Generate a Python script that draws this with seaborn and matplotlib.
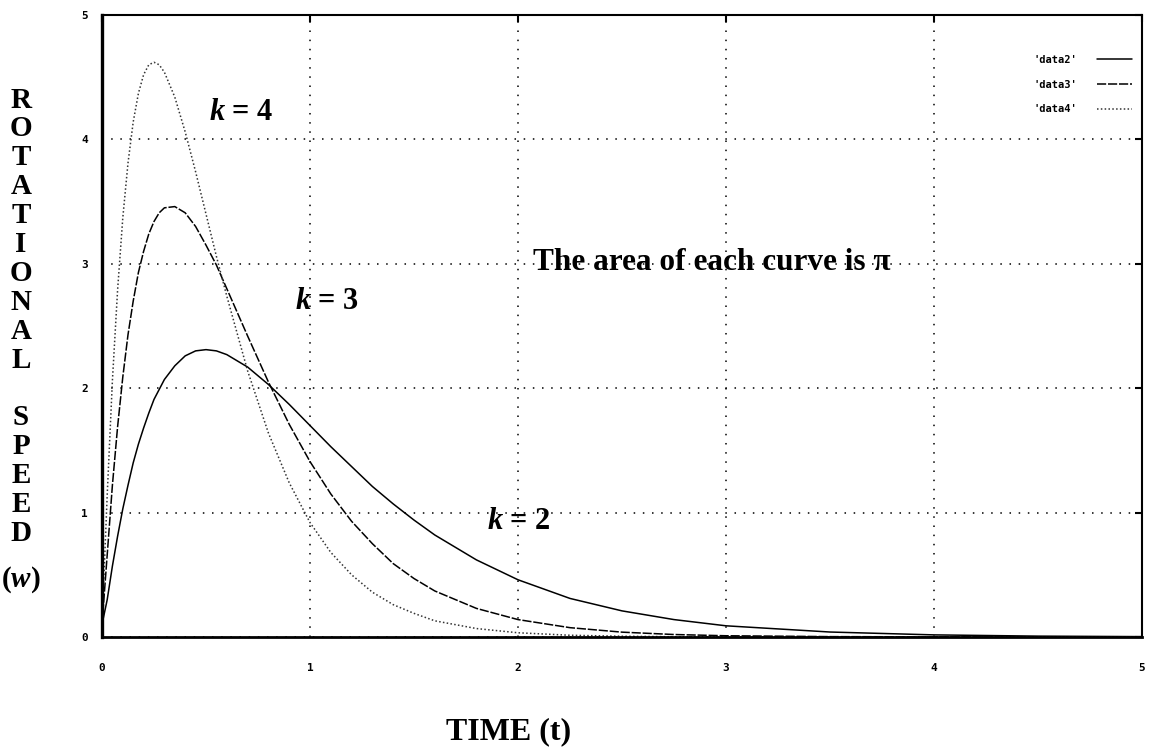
import numpy as np
import pandas as pd
import matplotlib
matplotlib.use("Agg")
import matplotlib.pyplot as plt
import seaborn as sns

# values
t_vals = [0, 0.025, 0.05, 0.075, 0.1, 0.125, 0.15, 0.175, 0.2, 0.225, 0.25, 0.275, 0.3,
          0.35, 0.4, 0.45, 0.5, 0.55, 0.6, 0.7, 0.8, 0.9, 1.0, 1.1, 1.2, 1.3, 1.4, 1.5,
          1.6, 1.8, 2.0, 2.25, 2.5, 2.75, 3.0, 3.5, 4.0, 4.5, 5.0]
w_k2 = [0.10, 0.30, 0.57, 0.81, 1.03, 1.22, 1.40, 1.55, 1.68, 1.80, 1.91, 1.99, 2.07,
        2.18, 2.26, 2.30, 2.31, 2.30, 2.27, 2.17, 2.03, 1.87, 1.70, 1.53, 1.37, 1.21, 1.07, 0.94,
        0.82, 0.62, 0.46, 0.31, 0.21, 0.14, 0.09, 0.04, 0.017, 0.007, 0.003]
w_k3 = [0.10, 0.66, 1.22, 1.69, 2.09, 2.43, 2.70, 2.93, 3.10, 3.24, 3.34, 3.41, 3.45,
        3.46, 3.41, 3.30, 3.15, 2.99, 2.80, 2.42, 2.05, 1.71, 1.41, 1.15, 0.93, 0.75, 0.59, 0.47,
        0.37, 0.23, 0.14, 0.075, 0.039, 0.02, 0.01, 0.003, 0.001, 0.0, 0.0]
w_k4 = [0.10, 1.14, 2.06, 2.79, 3.37, 3.81, 4.14, 4.37, 4.52, 4.60, 4.62, 4.60, 4.54,
        4.34, 4.06, 3.74, 3.40, 3.06, 2.74, 2.14, 1.64, 1.24, 0.92, 0.68, 0.50, 0.36, 0.26, 0.19,
        0.13, 0.068, 0.034, 0.014, 0.006, 0.002, 0.001, 0.0, 0.0, 0.0, 0.0]
series_names = ["'data2'", "'data3'", "'data4'"]
series_vals = [w_k2, w_k3, w_k4]
series_styles = ["-", (0, (6, 1.2)), (0, (1, 1.5))]
series_colors = ["black", "black", "#333333"]

sns.set_theme(style="white")
plt.rcParams["mathtext.fontset"] = "custom"
plt.rcParams["mathtext.it"] = "Liberation Serif:bold:italic"
plt.rcParams["mathtext.rm"] = "Liberation Serif:bold"
plt.rcParams["text.color"] = "black"

fig = plt.figure(figsize=(11.5, 7.51), dpi=100)
ax = fig.add_axes([102 / 1150, 1 - 637 / 751, 1040 / 1150, 622 / 751])

for name, vals, ls, c in zip(series_names, series_vals, series_styles, series_colors):
    df = pd.DataFrame({"t": t_vals, "w": vals})
    sns.lineplot(data=df, x="t", y="w", ax=ax, color=c, lw=1.1,
                 linestyle=ls, label=name)

ax.set_xlim(0, 5)
ax.set_ylim(0, 5)
ax.set_xticks(range(6))
ax.set_yticks(range(6))
ax.set_xlabel("")
ax.set_ylabel("")
ax.grid(True, color="black", lw=1.1, linestyle=(0, (1, 5)))
for s in ax.spines.values():
    s.set_color("black")
    s.set_linewidth(1.5)
ax.spines["left"].set_linewidth(2.4)
ax.spines["bottom"].set_linewidth(2.0)
ax.tick_params(direction="in", length=5, width=1.5, top=True, right=True, colors="black")
ax.tick_params(axis="x", pad=19)
ax.tick_params(axis="y", pad=10)
for lab in ax.get_xticklabels() + ax.get_yticklabels():
    lab.set_fontfamily("DejaVu Sans Mono")
    lab.set_fontweight("bold")
    lab.set_fontsize(8)

leg = ax.legend(loc="upper right", frameon=False, markerfirst=False,
                handlelength=3.4, labelspacing=1.4, handletextpad=1.9,
                borderpad=0, borderaxespad=0,
                bbox_to_anchor=(1030 / 1040, 1 - 40 / 622),
                prop={"family": "DejaVu Sans Mono", "weight": "bold", "size": 7.5})

serif = "Liberation Serif"
ax.text(0.515, 4.22, r"$k$ = 4", family=serif, weight="bold", fontsize=22, va="center")
ax.text(0.93, 2.7, r"$k$ = 3", family=serif, weight="bold", fontsize=22, va="center")
ax.text(1.85, 0.93, r"$k$ = 2", family=serif, weight="bold", fontsize=22, va="center")
ax.text(2.07, 3.01, "The area of each curve is π", family=serif, weight="bold",
        fontsize=22.5, va="center")

fig.text(509 / 1150, 1 - 732 / 751, "TIME (t)", family=serif, weight="bold",
         fontsize=23, ha="center", va="center")

ylab = list("ROTATIONAL") + [""] + list("SPEED")
for i, ch in enumerate(ylab):
    y_px = 100 + i * 28.9
    fig.text(21 / 1150, 1 - y_px / 751, ch, family=serif, weight="bold",
             fontsize=21, ha="center", va="center")
fig.text(21 / 1150, 1 - 580 / 751, r"($w$)", family=serif, weight="bold",
         fontsize=21, ha="center", va="center")

fig.savefig("out.png", dpi=100)
